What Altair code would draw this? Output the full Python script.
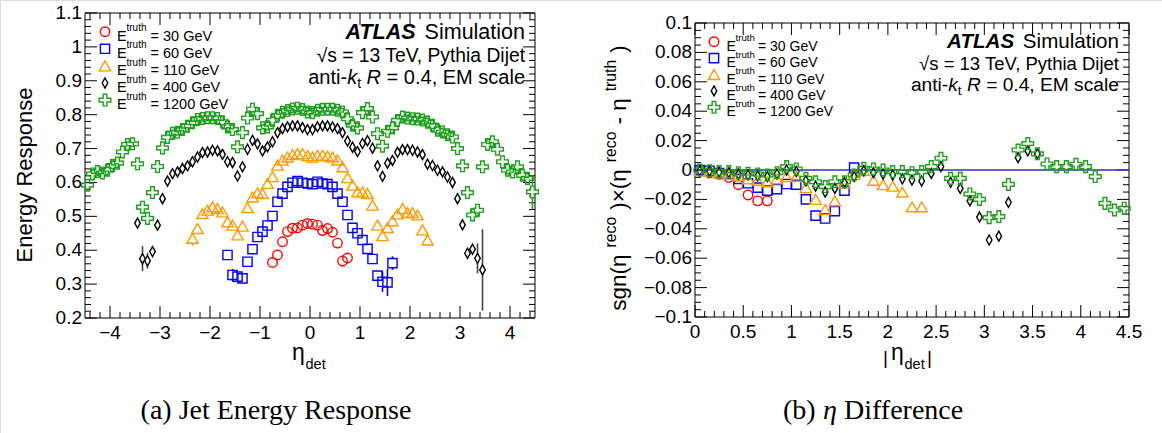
import altair as alt
import pandas as pd

SANS = "Liberation Sans"
SERIF = "Liberation Serif"

# ---------------- data ----------------
series = ["30 GeV", "60 GeV", "110 GeV", "400 GeV", "1200 GeV"]

# (a) energy response, bins of width 0.1 in eta_det; first bin centre per series
resp_first = {"30 GeV": -0.75, "60 GeV": -1.65, "110 GeV": -2.35, "400 GeV": -3.45, "1200 GeV": -4.45}
resp_30 = [0.364, 0.386, 0.425, 0.455, 0.465, 0.466, 0.474, 0.479,
           0.477, 0.474, 0.458, 0.464, 0.453, 0.421, 0.368, 0.377]
resp_60 = [0.386, 0.327, 0.322, 0.317, 0.366, 0.403, 0.439, 0.455, 0.473, 0.501,
           0.543, 0.567, 0.587, 0.599, 0.604, 0.599, 0.597,
           0.595, 0.602, 0.597, 0.595, 0.587, 0.567, 0.543, 0.504, 0.466, 0.450,
           0.430, 0.404, 0.374, 0.325, 0.307, 0.305, 0.362]
resp_110 = [0.435, 0.464, 0.508, 0.518, 0.528, 0.523, 0.513, 0.484, 0.474, 0.445,
            0.471, 0.526, 0.557, 0.569, 0.567, 0.597, 0.617, 0.651, 0.666, 0.675,
            0.682, 0.685, 0.685, 0.679,
            0.675, 0.680, 0.680, 0.678, 0.675, 0.666, 0.646, 0.614, 0.592, 0.572,
            0.572, 0.567, 0.533, 0.474, 0.443, 0.467, 0.487, 0.507, 0.523, 0.511,
            0.511, 0.504, 0.460, 0.430]
resp_400 = [0.480, 0.375, 0.369, 0.396, 0.474, 0.552, 0.604, 0.626, 0.631, 0.641,
            0.649, 0.661, 0.675, 0.688, 0.690, 0.695, 0.693, 0.683, 0.661, 0.659,
            0.619, 0.646, 0.698, 0.724, 0.714, 0.693, 0.705, 0.720, 0.747, 0.759,
            0.764, 0.767, 0.767, 0.762, 0.756,
            0.756, 0.764, 0.767, 0.767, 0.764, 0.759, 0.747, 0.722, 0.704, 0.691,
            0.715, 0.723, 0.701, 0.649, 0.618, 0.657, 0.665, 0.689, 0.697, 0.697,
            0.695, 0.690, 0.682, 0.654, 0.650, 0.636, 0.631, 0.616, 0.600, 0.552,
            0.475, 0.391, 0.403, 0.376, 0.342]
resp_1200 = [0.592, 0.625, 0.632, 0.628, 0.636, 0.650, 0.657, 0.690, 0.712, 0.714,
             0.655, 0.527, 0.494, 0.570, 0.647, 0.702, 0.733, 0.745, 0.748, 0.756,
             0.766, 0.776, 0.786, 0.789, 0.791, 0.791, 0.789, 0.779, 0.764, 0.756,
             0.705, 0.747, 0.790, 0.816, 0.803, 0.761, 0.764, 0.783, 0.798, 0.807,
             0.812, 0.817, 0.819, 0.815, 0.808,
             0.806, 0.813, 0.816, 0.816, 0.816, 0.813, 0.808, 0.788, 0.769, 0.761,
             0.806, 0.818, 0.793, 0.744, 0.707, 0.751, 0.761, 0.783, 0.793, 0.790,
             0.788, 0.787, 0.784, 0.778, 0.769, 0.754, 0.749, 0.741, 0.734, 0.700,
             0.649, 0.570, 0.504, 0.518, 0.646, 0.712, 0.720, 0.698, 0.661, 0.636,
             0.631, 0.646, 0.621, 0.612, 0.572]
# half-length of the visible error bars, by bin centre
resp_err = {
    "30 GeV": {-0.75: 0.015, 0.65: 0.012},
    "60 GeV": {-1.65: 0.012, -1.55: 0.018, -1.45: 0.010, 1.45: 0.030, 1.55: 0.040, 1.65: 0.020},
    "110 GeV": {-2.35: 0.022},
    "400 GeV": {-3.35: 0.037, -3.25: 0.023, 3.25: 0.010, 3.35: 0.044, 3.45: 0.120},
    "1200 GeV": {4.45: 0.050},
}

# (b) eta difference vs |eta_det|, first bin centre 0.05
diff_30 = [0.000, -0.002, -0.003, -0.005, -0.010, -0.017, -0.021, -0.021]
diff_60 = [0.000, -0.0005, -0.002, -0.003, -0.006, -0.009, -0.012, -0.014, -0.013, -0.0095,
           -0.010, -0.020, -0.031, -0.033, -0.028, -0.014, 0.0016]
diff_110 = [-0.0005, -0.001, -0.002, -0.003, -0.004, -0.006, -0.007, -0.008, -0.006, -0.0045,
            -0.0045, -0.012, -0.020, -0.027, -0.021, -0.009, -0.003, -0.0005, -0.007, -0.010,
            -0.011, -0.015, -0.025, -0.025]
diff_400 = [-0.0005, -0.0007, -0.0014, -0.0018, -0.0027, -0.0034, -0.004, -0.0045, -0.0027, 0.0,
            -0.001, -0.0073, -0.011, -0.015, -0.0125, -0.0086, -0.0045, -0.0005, -0.0018, -0.0027,
            -0.0034, -0.006, -0.0068, -0.0075, -0.0023, 0.0023, -0.0084, -0.0125, -0.021, -0.032,
            -0.0476, -0.045, -0.022, 0.0084, 0.013, 0.011]
diff_1200 = [0.0, -0.0005, -0.0011, -0.0011, -0.0018, -0.0023, -0.0027, -0.0034, -0.0018, 0.0023,
             0.0007, -0.0057, -0.008, -0.0113, -0.008, -0.008, -0.0034, 0.0011, 0.0007, 0.0,
             -0.0011, -0.0011, -0.0018, -0.0011, 0.0023, 0.008, -0.0057, -0.0057, -0.0163, -0.0200,
             -0.0324, -0.0317, -0.0098, 0.0136, 0.018, 0.011, 0.0041, 0.0023, 0.0023, 0.0039,
             0.0023, -0.0045, -0.0227, -0.0272, -0.026]

# axes
a_xdom, a_ydom = [-4.5, 4.5], [0.2, 1.1]
b_xdom, b_ydom = [0.0, 4.5], [-0.1, 0.1]
a_xmajor = [-4, -3, -2, -1, 0, 1, 2, 3, 4]
a_ymajor = [0.2, 0.3, 0.4, 0.5, 0.6, 0.7, 0.8, 0.9, 1.0, 1.1]
b_xmajor = [0, 0.5, 1, 1.5, 2, 2.5, 3, 3.5, 4, 4.5]
b_ymajor = [-0.1, -0.08, -0.06, -0.04, -0.02, 0, 0.02, 0.04, 0.06, 0.08, 0.1]
a_xminor = [round(-4.4 + 0.2 * i, 3) for i in range(45)]
a_yminor = [round(0.2 + 0.02 * i, 3) for i in range(46)]
b_xminor = [round(0.1 * i, 3) for i in range(46)]
b_yminor = [round(-0.1 + 0.005 * i, 4) for i in range(41)]

# ---------------- styles / layout ----------------
DIAMOND = "M0,-1L0.56,0L0,1L-0.56,0Z"
CROSS = ("M-0.32,-1L0.32,-1L0.32,-0.32L1,-0.32L1,0.32L0.32,0.32L0.32,1L-0.32,1"
         "L-0.32,0.32L-1,0.32L-1,-0.32L-0.32,-0.32Z")
STYLE = {
    "30 GeV": dict(color="#ff0000", shape="circle", size=90),
    "60 GeV": dict(color="#0000ff", shape="square", size=85),
    "110 GeV": dict(color="#ff9900", shape="triangle-up", size=130),
    "400 GeV": dict(color="#000000", shape=DIAMOND, size=100),
    "1200 GeV": dict(color="#1f9f1f", shape=CROSS, size=135),
}
ERRCOL = {"30 GeV": "#ff0000", "60 GeV": "#0000ff", "110 GeV": "#ff9900",
          "400 GeV": "#444444", "1200 GeV": "#1f9f1f"}

W, H = 1162, 433
A_X, A_Y = [85, 535], [318, 13]
B_X, B_Y = [695, 1129], [317, 23]
MAJ, MIN = 12, 6
TICK_FS = 19

ARIAL = {" ": .278, "-": .333, "=": .584, ".": .278, ",": .278, "(": .333, ")": .333,
         "E": .667, "M": .833, "R": .722, "S": .667, "D": .722, "P": .667, "T": .611, "V": .667,
         "a": .556, "c": .5, "d": .556, "e": .556, "g": .556, "h": .556, "i": .222, "j": .222,
         "k": .5, "l": .222, "m": .833, "n": .556, "o": .556, "p": .556, "r": .333, "s": .5,
         "t": .278, "u": .556, "y": .5, "\u00d7": .584, "\u03b7": .556, "|": .26}


def tw(s, fs):
    return sum(ARIAL.get(c, .556) for c in s) * fs


dummy = pd.DataFrame({"a": [0]})


def text(s, x, y, fs, align="left", baseline="alphabetic", angle=0, font=SANS,
         style="normal", weight="normal"):
    return alt.Chart(dummy).mark_text(
        text=s, align=align, baseline=baseline, angle=angle, font=font, fontSize=fs,
        fontStyle=style, fontWeight=weight, color="black"
    ).encode(x=alt.value(x), y=alt.value(y))


def long_df(first, arrays):
    rows = []
    for s, vals in zip(series, arrays):
        f = first[s] if isinstance(first, dict) else first
        for i, v in enumerate(vals):
            rows.append(dict(eta=round(f + 0.1 * i, 2), val=v, series=s, **STYLE[s]))
    return pd.DataFrame(rows)


def panel(df, err, xdom, ydom, xr, yr, xmaj, xmin, ymaj, ymin, xfmt, yfmt, zero_line=False):
    xs = alt.Scale(domain=xdom, range=xr, nice=False, zero=False)
    ys = alt.Scale(domain=ydom, range=yr, nice=False, zero=False)
    X = lambda f: alt.X(f, scale=xs, axis=None)
    Y = lambda f: alt.Y(f, scale=ys, axis=None)
    layers = []
    frame_df = pd.DataFrame({"x0": [xdom[0]], "x1": [xdom[1]], "y0": [ydom[0]], "y1": [ydom[1]]})
    layers.append(alt.Chart(frame_df).mark_rect(fillOpacity=0, stroke="black", strokeWidth=1)
                  .encode(x=X("x0:Q"), x2="x1:Q", y=Y("y0:Q"), y2="y1:Q"))
    xmin = [v for v in xmin if all(abs(v - m) > 1e-6 for m in xmaj) and xdom[0] < v < xdom[1]]
    ymin = [v for v in ymin if all(abs(v - m) > 1e-6 for m in ymaj) and ydom[0] < v < ydom[1]]
    for vals, L in ((xmaj, MAJ), (xmin, MIN)):
        tdf = pd.DataFrame({"t": vals})
        r = alt.Chart(tdf).mark_rule(color="black", strokeWidth=1)
        layers.append(r.encode(x=X("t:Q"), y=alt.value(yr[0]), y2=alt.value(yr[0] - L)))
        layers.append(r.encode(x=X("t:Q"), y=alt.value(yr[1]), y2=alt.value(yr[1] + L)))
    for vals, L in ((ymaj, MAJ), (ymin, MIN)):
        tdf = pd.DataFrame({"t": vals})
        r = alt.Chart(tdf).mark_rule(color="black", strokeWidth=1)
        layers.append(r.encode(y=Y("t:Q"), x=alt.value(xr[0]), x2=alt.value(xr[0] + L)))
        layers.append(r.encode(y=Y("t:Q"), x=alt.value(xr[1]), x2=alt.value(xr[1] - L)))
    # tick labels
    xl = pd.DataFrame({"v": xmaj, "lab": [xfmt(v) for v in xmaj]})
    layers.append(alt.Chart(xl).mark_text(baseline="top", align="center", fontSize=TICK_FS, font=SANS, color="black")
                  .encode(x=X("v:Q"), y=alt.value(yr[0] + 6), text="lab:N"))
    yl = pd.DataFrame({"v": ymaj, "lab": [yfmt(v) for v in ymaj]})
    layers.append(alt.Chart(yl).mark_text(baseline="middle", align="right", fontSize=TICK_FS, font=SANS, color="black")
                  .encode(y=Y("v:Q"), x=alt.value(xr[0] - 3), text="lab:N"))
    if zero_line:
        zdf = pd.DataFrame({"x0": [xdom[0]], "x1": [xdom[1]], "y": [0.0]})
        layers.append(alt.Chart(zdf).mark_rule(color="#2f2fc8", strokeWidth=1.6)
                      .encode(x=X("x0:Q"), x2="x1:Q", y=Y("y:Q")))
    # error bars
    erows = []
    for s, d in err.items():
        for e, h in d.items():
            v = df[(df.series == s) & ((df.eta - e).abs() < 1e-6)].iloc[0]
            erows.append(dict(eta=e, lo=v.val - h, hi=v.val + h, val=v.val, ecol=ERRCOL[s],
                              shape=v["shape"], size=v["size"]))
    if erows:
        edf = pd.DataFrame(erows)
        layers.append(alt.Chart(edf).mark_rule(strokeWidth=1.6)
                      .encode(x=X("eta:Q"), y=Y("lo:Q"), y2="hi:Q", color=alt.Color("ecol:N", scale=None)))
        layers.append(alt.Chart(edf).mark_point(filled=True, fill="white", opacity=1, strokeWidth=0)
                      .encode(x=X("eta:Q"), y=Y("val:Q"), shape=alt.Shape("shape:N", scale=None),
                              size=alt.Size("size:Q", scale=None)))
    layers.append(alt.Chart(df).mark_point(filled=False, opacity=1, strokeWidth=1.4)
                  .encode(x=X("eta:Q"), y=Y("val:Q"), color=alt.Color("color:N", scale=None),
                          shape=alt.Shape("shape:N", scale=None), size=alt.Size("size:Q", scale=None)))
    return alt.layer(*layers)


def legend(x_sym, y0, dy, x_e, x_sup, x_eq, fs, fs_sup):
    ldf = pd.DataFrame({"series": series, "row": list(range(len(series)))})
    ldf["lab"] = "= " + ldf["series"]
    for k in ("color", "shape", "size"):
        ldf[k] = [STYLE[s][k] for s in series]
    base = alt.Chart(ldf).transform_calculate(
        py=f"{y0} + {dy} * datum.row",
        pyt=f"{y0 + 0.36 * fs} + {dy} * datum.row",
        pys=f"{y0 - 0.23 * fs} + {dy} * datum.row")
    YP = lambda f: alt.Y(f, scale=None, axis=None)
    sym = base.mark_point(filled=False, opacity=1, strokeWidth=1.4).encode(
        x=alt.value(x_sym), y=YP("py:Q"), color=alt.Color("color:N", scale=None),
        shape=alt.Shape("shape:N", scale=None), size=alt.Size("size:Q", scale=None))
    e = base.mark_text(text="E", align="left", fontSize=fs, font=SANS, color="black").encode(
        x=alt.value(x_e), y=YP("pyt:Q"))
    sup = base.mark_text(text="truth", align="left", fontSize=fs_sup, font=SANS, color="black").encode(
        x=alt.value(x_sup), y=YP("pys:Q"))
    eq = base.mark_text(align="left", fontSize=fs, font=SANS, color="black").encode(
        x=alt.value(x_eq), y=YP("pyt:Q"), text="lab:N")
    return [sym, e, sup, eq]


def atlas_block(x_right, y1, y2, y3, fs1, fs2, fs3):
    out = []
    w_sim = tw("Simulation", fs1)
    out.append(text("Simulation", x_right, y1, fs1, align="right"))
    out.append(text("ATLAS", x_right - w_sim - 0.42 * fs1, y1, fs1, align="right",
                    style="italic", weight="bold"))
    out.append(text("\u221as = 13 TeV, Pythia Dijet", x_right, y2, fs2, align="right"))
    # anti-k_t R = 0.4, EM scale  (composed right to left)
    fs = fs3
    sub = 0.7 * fs
    x = x_right - tw("= 0.4, EM scale", fs)
    out.append(text("= 0.4, EM scale", x, y3, fs))
    x -= tw(" ", fs) + tw("R", fs)
    out.append(text("R", x, y3, fs, style="italic"))
    x -= tw(" ", fs) + tw("t", sub)
    out.append(text("t", x, y3 + 0.22 * fs, sub))
    x -= tw("k", fs)
    out.append(text("k", x, y3, fs, style="italic"))
    x -= tw("anti-", fs)
    out.append(text("anti-", x, y3, fs))
    return out


def vtitle(pieces, x_base, y_center, fs, gap):
    sizes = [fs if k == "n" else 0.7 * fs for _, k in pieces]
    total = sum(tw(t, s) for (t, _), s in zip(pieces, sizes)) + gap * (len(pieces) - 1)
    y = y_center + total / 2
    out = []
    for (t, k), s in zip(pieces, sizes):
        xb = x_base if k == "n" else x_base - 0.45 * fs
        out.append(text(t, xb, y, s, angle=270))
        y -= tw(t, s) + gap
    return out


fmt_x = lambda v: f"{v:g}".replace("-", "\u2212")

df_a = long_df(resp_first, [resp_30, resp_60, resp_110, resp_400, resp_1200])
df_b = long_df(0.05, [diff_30, diff_60, diff_110, diff_400, diff_1200])

left = panel(df_a, resp_err, a_xdom, a_ydom, A_X, A_Y, a_xmajor, a_xminor, a_ymajor, a_yminor,
             fmt_x, fmt_x)
right = panel(df_b, {}, b_xdom, b_ydom, B_X, B_Y, b_xmajor, b_xminor, b_ymajor, b_yminor,
              fmt_x, fmt_x, zero_line=True)

ann = []
ann += legend(105, 31.7, 17.1, 117, 126.5, 150.5, 14.5, 10)
ann += legend(714, 41.7, 16.4, 726.5, 735.5, 758, 14, 9.7)
ann += atlas_block(525, 39, 61.5, 84, 21.5, 19.3, 20)
ann += atlas_block(1119, 48.3, 69.5, 90.7, 20.6, 18.5, 19.2)
# axis titles
ann.append(text("Energy Response", 31.5, 175, 22, align="center", angle=270))
ann.append(text("\u03b7", 292, 360, 23))
ann.append(text("det", 305.5, 368.5, 14.5))
ann.append(text("|", 883, 364, 19))
ann.append(text("\u03b7", 891, 360, 23))
ann.append(text("det", 904.5, 368.5, 14.5))
ann.append(text("|", 927, 364, 19))
ann += vtitle([("sgn(\u03b7", "n"), ("reco", "s"), (")\u00d7(\u03b7", "n"), ("reco", "s"),
               ("- \u03b7", "n"), ("truth", "s"), (")", "n")], 626, 178, 22.5, 7)
# captions
ann.append(text("(a) Jet Energy Response", 276, 419, 28, align="center", font=SERIF))
ann.append(text("(b)", 783, 419, 28, font=SERIF))
ann.append(text("\u03b7", 823, 419, 28, font=SERIF, style="italic"))
ann.append(text("Difference", 844, 419, 28, font=SERIF))

chart = alt.layer(left, right, alt.layer(*ann)).resolve_scale(
    x="independent", y="independent"
).properties(
    width=W, height=H, padding=0, autosize=alt.AutoSizeParams(type="none")
).configure_view(strokeWidth=0).configure(font=SANS)

chart.save("out.html", embed_options={"renderer": "svg", "actions": False})
